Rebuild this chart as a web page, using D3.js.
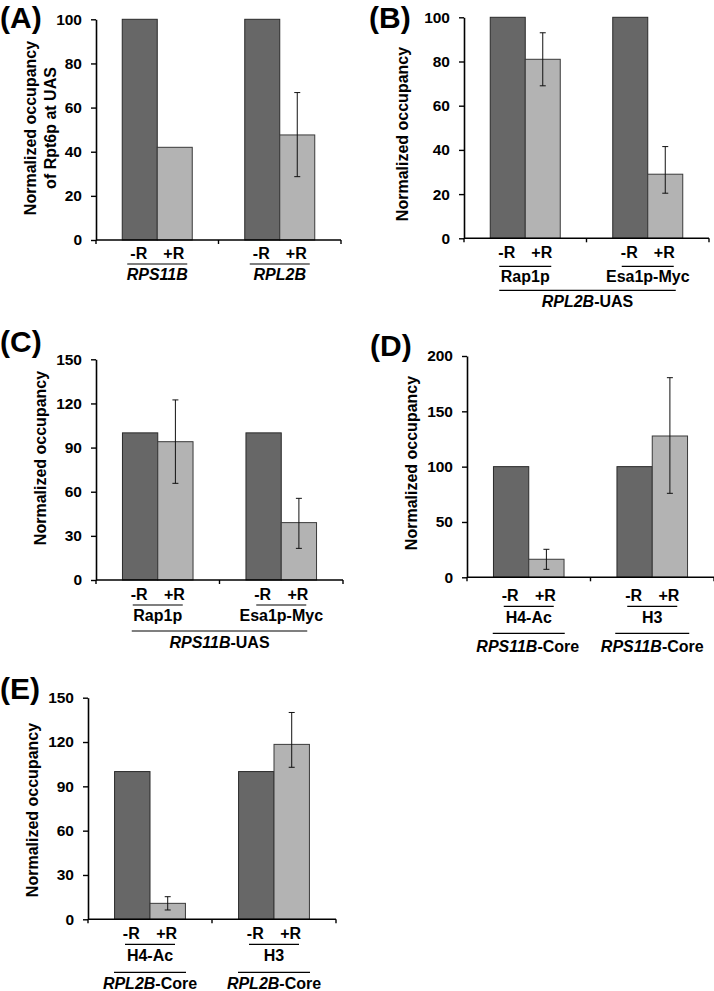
<!DOCTYPE html>
<html>
<head>
<meta charset="utf-8">
<title>occupancy panels</title>
<script src="https://d3js.org/d3.v7.min.js"></script>
<style>
  body { margin: 0; background: #fff; }
  text { font-family: "Liberation Sans", Arial, sans-serif; font-weight: bold; fill: #000; }
</style>
</head>
<body>
<script>
  // values (-R is always 100, normalized)
  const conditions = ['-R', '+R'];

  const catsA = ['RPS11B', 'RPL2B'];
  const minusA = [100, 100];
  const plusA = [42, 47.6];
  const hiA = [null, 66.8];
  const loA = [null, 28.7];
  const ticksA = [0, 20, 40, 60, 80, 100];

  const catsB = ['Rap1p', 'Esa1p-Myc'];
  const minusB = [100, 100];
  const plusB = [81, 29];
  const hiB = [93, 41.5];
  const loB = [69, 20.4];
  const ticksB = [0, 20, 40, 60, 80, 100];

  const catsC = ['Rap1p', 'Esa1p-Myc'];
  const minusC = [100, 100];
  const plusC = [94, 39];
  const hiC = [122.4, 55.5];
  const loC = [65.7, 21.5];
  const ticksC = [0, 30, 60, 90, 120, 150];

  const catsD = ['H4-Ac', 'H3'];
  const minusD = [100, 100];
  const plusD = [16.3, 127.7];
  const hiD = [25.3, 180.4];
  const loD = [7.2, 75.9];
  const ticksD = [0, 50, 100, 150, 200];

  const catsE = ['H4-Ac', 'H3'];
  const minusE = [100, 100];
  const plusE = [10.8, 118.4];
  const hiE = [15.3, 140];
  const loE = [6.3, 102.9];
  const ticksE = [0, 30, 60, 90, 120, 150];

  const W = 714, H = 991;
  const dark = '#676767', light = '#b3b3b3';

  const svg = d3.select('body').append('svg')
    .attr('width', W)
    .attr('height', H);

  // gene label: italic gene name + optional plain suffix
  function geneText(sel, gene, suffix) {
    sel.append('tspan').style('font-style', 'italic').text(gene);
    if (suffix) sel.append('tspan').text(suffix);
  }

  function panel(p) {
    const g = svg.append('g');
    const y = d3.scaleLinear().domain([0, p.ticks[p.ticks.length - 1]]).range([p.y0, p.yTop]);
    const x = d3.scaleBand().domain(p.cats).range([p.x0, p.x1]);
    const xs = d3.scaleBand().domain(conditions).range([0, x.bandwidth()]).paddingOuter(0.75);

    const rows = p.cats.map((c, i) => ({ c, i, minus: p.minus[i], plus: p.plus[i], hi: p.hi[i], lo: p.lo[i] }));

    // bars
    const grp = g.selectAll('.grp').data(rows).enter().append('g')
      .attr('transform', d => `translate(${x(d.c)},0)`);
    grp.append('rect')
      .attr('x', xs('-R')).attr('width', xs.bandwidth())
      .attr('y', d => y(d.minus)).attr('height', d => y(0) - y(d.minus))
      .attr('fill', dark).attr('stroke', '#2a2a2a').attr('stroke-width', 1);
    grp.append('rect')
      .attr('x', xs('+R')).attr('width', xs.bandwidth())
      .attr('y', d => y(d.plus)).attr('height', d => y(0) - y(d.plus))
      .attr('fill', light).attr('stroke', '#3a3a3a').attr('stroke-width', 1);

    // error bars
    const eb = grp.filter(d => d.hi != null).append('g')
      .attr('transform', `translate(${xs('+R') + xs.bandwidth() / 2},0)`)
      .attr('stroke', '#111').attr('stroke-width', 1);
    eb.append('line').attr('x1', 0).attr('x2', 0).attr('y1', d => y(d.hi)).attr('y2', d => y(d.lo));
    eb.append('line').attr('x1', -3).attr('x2', 3).attr('y1', d => y(d.hi)).attr('y2', d => y(d.hi));
    eb.append('line').attr('x1', -3).attr('x2', 3).attr('y1', d => y(d.lo)).attr('y2', d => y(d.lo));

    // y axis
    const ya = g.append('g').attr('transform', `translate(${p.x0},0)`)
      .call(d3.axisLeft(y).tickValues(p.ticks).tickSize(5).tickPadding(9).tickSizeOuter(0));
    ya.select('.domain').attr('stroke', '#000').attr('stroke-width', 1.6);
    ya.selectAll('.tick line').attr('stroke', '#000').attr('stroke-width', 1.4);
    ya.selectAll('.tick text').style('font-size', '15.5px').style('font-family', '"Liberation Sans", Arial, sans-serif')
      .style('font-weight', 'bold').attr('fill', '#000');

    // x axis line with tick marks at group borders
    g.append('line').attr('x1', p.x0).attr('x2', p.x1).attr('y1', p.y0).attr('y2', p.y0)
      .attr('stroke', '#000').attr('stroke-width', 1.6);
    g.selectAll('.xt').data([p.x0, (p.x0 + p.x1) / 2, p.x1]).enter().append('line')
      .attr('x1', d => d).attr('x2', d => d).attr('y1', p.y0).attr('y2', p.y0 + 4)
      .attr('stroke', '#000').attr('stroke-width', 1.4);

    // condition labels
    grp.selectAll('.cond').data(conditions).enter().append('text')
      .attr('x', c => xs(c) + xs.bandwidth() / 2 - 1)
      .attr('y', p.y0 + p.condDy)
      .attr('text-anchor', 'middle').style('font-size', '16px')
      .text(c => c);

    // underline under -R +R
    grp.append('line')
      .attr('x1', x.bandwidth() / 2 - p.ul).attr('x2', x.bandwidth() / 2 + p.ul)
      .attr('y1', p.y0 + p.ulDy).attr('y2', p.y0 + p.ulDy)
      .attr('stroke', '#000').attr('stroke-width', 1.2);

    // category labels
    grp.append('text')
      .attr('x', x.bandwidth() / 2).attr('y', p.y0 + p.catDy)
      .attr('text-anchor', 'middle').style('font-size', '16px')
      .each(function (d) {
        if (p.catItalic) geneText(d3.select(this), d.c);
        else d3.select(this).text(d.c);
      });

    // lower gene labels
    if (p.gene) {
      p.gene.forEach(gl => {
        const a = gl.span ? x(p.cats[0]) + x.bandwidth() / 2 - gl.left : x(gl.cat) + x.bandwidth() / 2 - gl.half;
        const b = gl.span ? x(p.cats[1]) + x.bandwidth() / 2 + gl.right : x(gl.cat) + x.bandwidth() / 2 + gl.half;
        g.append('line').attr('x1', a).attr('x2', b)
          .attr('y1', p.y0 + p.lineDy).attr('y2', p.y0 + p.lineDy)
          .attr('stroke', '#000').attr('stroke-width', 1.2);
        const t = g.append('text').attr('x', (a + b) / 2 + (gl.dx || 0)).attr('y', p.y0 + p.geneDy)
          .attr('text-anchor', 'middle').style('font-size', '16px');
        geneText(t, gl.name, gl.suffix);
      });
    }

    // y title
    const tt = g.append('text')
      .attr('transform', `translate(${p.titleX},${p.titleY}) rotate(-90)`)
      .attr('text-anchor', 'middle').style('font-size', '16px');
    p.title.forEach((line, i) => {
      tt.append('tspan').attr('x', 0).attr('dy', i === 0 ? 0 : 20).text(line);
    });

    // panel letter
    g.append('text').attr('x', p.lx).attr('y', p.ly).style('font-size', '30px').text(p.letter);
  }

  panel({
    letter: '(A)', lx: 0, ly: 28,
    cats: catsA, minus: minusA, plus: plusA, hi: hiA, lo: loA, ticks: ticksA,
    x0: 96, x1: 341, yTop: 19.3, y0: 240,
    condDy: 18.5, ul: 30, ulDy: 24, catDy: 39.5, catItalic: true,
    title: ['Normalized occupancy', 'of Rpt6p at UAS'], titleX: 36, titleY: 128
  });

  panel({
    letter: '(B)', lx: 369, ly: 28,
    cats: catsB, minus: minusB, plus: plusB, hi: hiB, lo: loB, ticks: ticksB,
    x0: 464, x1: 709, yTop: 17.3, y0: 238.3,
    condDy: 20, ul: 26, ulDy: 28, catDy: 44,
    lineDy: 52, geneDy: 69,
    gene: [{ span: true, left: 26, right: 28, name: 'RPL2B', suffix: '-UAS' }],
    title: ['Normalized occupancy'], titleX: 408, titleY: 134
  });

  panel({
    letter: '(C)', lx: 0, ly: 352,
    cats: catsC, minus: minusC, plus: plusC, hi: hiC, lo: loC, ticks: ticksC,
    x0: 96, x1: 343, yTop: 359.3, y0: 580,
    condDy: 20, ul: 25, ulDy: 25, catDy: 41,
    lineDy: 51, geneDy: 68,
    gene: [{ span: true, left: 26, right: 26, name: 'RPS11B', suffix: '-UAS' }],
    title: ['Normalized occupancy'], titleX: 46, titleY: 458
  });

  panel({
    letter: '(D)', lx: 370, ly: 356,
    cats: catsD, minus: minusD, plus: plusD, hi: hiD, lo: loD, ticks: ticksD,
    x0: 467, x1: 714, yTop: 356, y0: 577.3,
    condDy: 24, ul: 25, ulDy: 29, catDy: 46,
    lineDy: 56, geneDy: 75,
    gene: [
      { cat: 'H4-Ac', half: 36, name: 'RPS11B', suffix: '-Core', dx: -1 },
      { cat: 'H3', half: 37, name: 'RPS11B', suffix: '-Core' }
    ],
    title: ['Normalized occupancy'], titleX: 417, titleY: 463
  });

  panel({
    letter: '(E)', lx: 0, ly: 699,
    cats: catsE, minus: minusE, plus: plusE, hi: hiE, lo: loE, ticks: ticksE,
    x0: 88, x1: 336, yTop: 697.7, y0: 919.3,
    condDy: 20, ul: 25, ulDy: 25, catDy: 42,
    lineDy: 53, geneDy: 70,
    gene: [
      { cat: 'H4-Ac', half: 36, name: 'RPL2B', suffix: '-Core' },
      { cat: 'H3', half: 36, name: 'RPL2B', suffix: '-Core' }
    ],
    title: ['Normalized occupancy'], titleX: 38, titleY: 810
  });
</script>
</body>
</html>
